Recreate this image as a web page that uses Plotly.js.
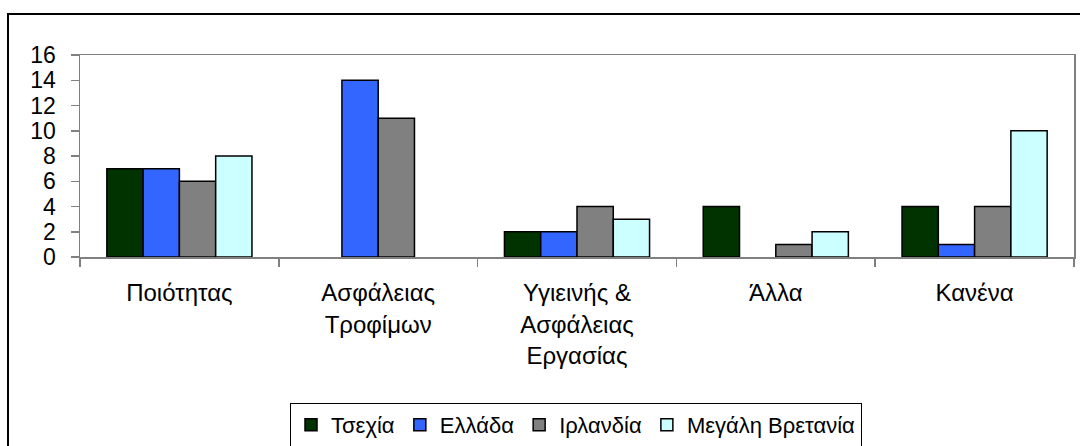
<!DOCTYPE html>
<html>
<head>
<meta charset="utf-8">
<script src="https://cdn.plot.ly/plotly-3.0.1.min.js"></script>
<style>
html,body{margin:0;padding:0;background:#fff;}
#chart{width:1080px;height:446px;}
</style>
</head>
<body>
<div id="chart"></div>
<script>
const categories = ['Ποιότητας', 'Ασφάλειας<br>Τροφίμων', 'Υγιεινής &amp;<br>Ασφάλειας<br>Εργασίας', 'Άλλα', 'Κανένα'];
const seriesNames = ['Τσεχία', 'Ελλάδα', 'Ιρλανδία', 'Μεγάλη Βρετανία'];
const czech = [7, 0, 2, 4, 4];
const greece = [7, 14, 2, 0, 1];
const ireland = [6, 11, 4, 1, 4];
const uk = [8, 0, 3, 2, 10];
const seriesColors = ['#003300', '#3366FF', '#808080', '#CCFFFF'];
const yTicks = [0, 2, 4, 6, 8, 10, 12, 14, 16];

const FONT = 'Liberation Sans, Arial, sans-serif';
const values = [czech, greece, ireland, uk];
const traces = values.map((v, i) => ({
  type: 'bar',
  name: seriesNames[i],
  x: categories,
  // zero values are not drawn (as in the original chart)
  y: v.map(d => (d === 0 ? null : d)),
  marker: {color: seriesColors[i], line: {color: '#000000', width: 1.5}},
  hoverinfo: 'x+y+name'
}));

const layout = {
  width: 1080, height: 446,
  margin: {l: 80, r: 6, t: 55, b: 189, pad: 0},
  paper_bgcolor: '#ffffff', plot_bgcolor: '#ffffff',
  font: {family: FONT, size: 22, color: '#000000'},
  barmode: 'group',
  bargap: 0.27,
  bargroupgap: 0,
  showlegend: true,
  legend: {
    orientation: 'h',
    xref: 'container', yref: 'container',
    x: 576 / 1080, xanchor: 'center',
    y: 1 - 403 / 446, yanchor: 'top',
    bordercolor: '#000000', borderwidth: 1, font: {family: FONT, size: 22, color: '#000'},
    traceorder: 'normal'
  },
  xaxis: {
    type: 'category',
    automargin: false,
    showline: true, linecolor: '#808080', linewidth: 1.5, mirror: true,
    ticks: 'outside', ticklen: 8, tickcolor: '#808080', tickwidth: 1.5,
    tickson: 'boundaries',
    ticklabelstandoff: 14,
    showgrid: false, zeroline: false,
    tickfont: {family: FONT, size: 24, color: '#000'},
    fixedrange: true
  },
  yaxis: {
    range: [0, 16],
    automargin: false,
    tickvals: yTicks,
    showline: true, linecolor: '#808080', linewidth: 1.5, mirror: true,
    ticks: 'outside', ticklen: 8, tickcolor: '#808080', tickwidth: 1.5,
    ticklabelstandoff: 10,
    showgrid: false, zeroline: false,
    tickfont: {family: FONT, size: 23, color: '#000'},
    fixedrange: true
  },
  shapes: [{
    type: 'rect', xref: 'paper', yref: 'paper',
    x0: (8 - 80) / 994, x1: (1090 - 80) / 994,
    y0: (257 - 14) / 202, y1: (257 - 460) / 202,
    line: {color: '#000000', width: 2}, fillcolor: 'rgba(0,0,0,0)', layer: 'below'
  }]
};

Plotly.newPlot('chart', traces, layout, {displayModeBar: false, staticPlot: true});
</script>
</body>
</html>
